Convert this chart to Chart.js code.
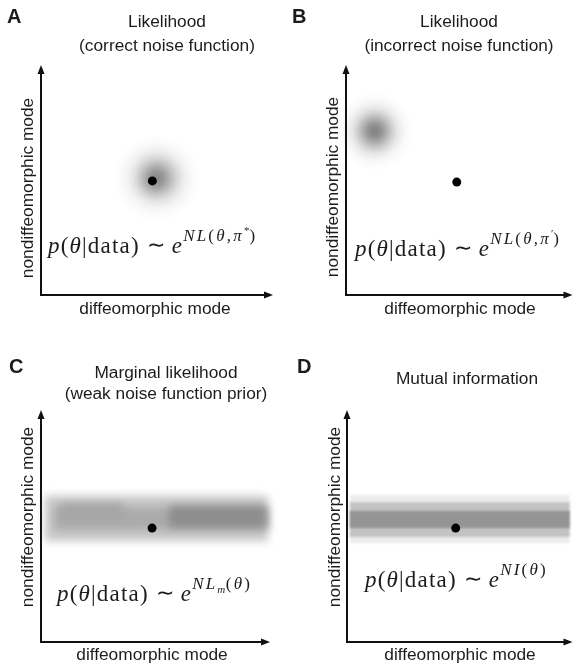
<!DOCTYPE html>
<html><head><meta charset="utf-8">
<script src="https://cdn.jsdelivr.net/npm/chart.js@4.4.0/dist/chart.umd.min.js"></script>
<style>
html,body{margin:0;padding:0;background:#fff;}
#wrap{position:relative;width:577px;height:664px;overflow:hidden;background:#fff;}
canvas{position:absolute;}
</style></head><body><div id="wrap">
<canvas id="c0"></canvas><canvas id="c1"></canvas><canvas id="c2"></canvas><canvas id="c3"></canvas>
</div>
<script>
// ---------------- data ----------------
const panelLetters = ['A', 'B', 'C', 'D'];
const titleLines = [
  ['Likelihood', '(correct noise function)'],
  ['Likelihood', '(incorrect noise function)'],
  ['Marginal likelihood', '(weak noise function prior)'],
  ['Mutual information']
];
const xAxisLabel = 'diffeomorphic mode';
const yAxisLabel = 'nondiffeomorphic mode';
const axisMin = 0, axisMax = 10;

// true parameter (black dot) per panel
const truthX = [4.80, 4.89, 4.85, 4.82];
const truthY = [4.96, 4.91, 4.91, 4.91];

// gaussian likelihood blobs (panels A, B)
const blobPanel = [0, 0, 1];
const blobX     = [5.0, 4.85, 1.27];
const blobY     = [5.09, 4.98, 7.13];
const blobSigma = [0.62, 0.30, 0.56];
const blobPeak  = [0.42, 0.08, 0.48];

// shaded horizontal bands (panels C, D)
const bandPanel = [2, 2, 2, 2, 3, 3, 3];
const bandX0    = [0.17, 0.60, 0.85, 5.60, 0.13, 0.13, 0.13];
const bandX1    = [9.91, 9.91, 3.60, 9.80, 9.87, 9.87, 9.87];
const bandY0    = [4.35, 4.85, 5.35, 4.95, 4.27, 4.53, 4.91];
const bandY1    = [6.30, 5.80, 5.95, 5.85, 6.34, 6.03, 5.65];
const bandShade = [198, 170, 165, 140, 236, 195, 148];

// equation text per panel: [text, italic, level]
const eqMain = [['p', 1, 0], ['(', 0, 0], ['θ', 1, 0], ['|data)', 0, 0], [' ', 0, 0], ['∼', 0, 4], [' ', 0, 0], ['e', 1, 0]];
const eqExp = [
  [['NL', 1, 1], ['(', 0, 1], ['θ', 1, 1], [',', 0, 1], ['π', 1, 1], ['*', 0, 2], [')', 0, 1]],
  [['NL', 1, 1], ['(', 0, 1], ['θ', 1, 1], [',', 0, 1], ['π', 1, 1], ['′', 0, 2], [')', 0, 1]],
  [['NL', 1, 1], ['m', 1, 3], ['(', 0, 1], ['θ', 1, 1], [')', 0, 1]],
  [['NI', 1, 1], ['(', 0, 1], ['θ', 1, 1], [')', 0, 1]]
];

// ---------------- layout / style ----------------
const layout = [
  {left: 0, top: 0, w: 288, h: 332, pad: {left: 41, top: 65, right: 15, bottom: 37},
   titleX: 167, titleY: [22, 46], letX: 7, letY: 17, xlabX: 155, xlabY: 309, ylabX: 28, ylabY: 188, eqX: 48, eqY: 253, blur: 0},
  {left: 288, top: 0, w: 289, h: 332, pad: {left: 58, top: 65, right: 2, bottom: 37},
   titleX: 171, titleY: [22, 46], letX: 4, letY: 17, xlabX: 172, xlabY: 309, ylabX: 45, ylabY: 187, eqX: 67, eqY: 256, blur: 0},
  {left: 0, top: 332, w: 288, h: 332, pad: {left: 41, top: 78, right: 18, bottom: 22},
   titleX: 166, titleY: [41, 62], letX: 9, letY: 35, xlabX: 152, xlabY: 323, ylabX: 28, ylabY: 185, eqX: 57, eqY: 269, blur: 4},
  {left: 288, top: 332, w: 289, h: 332, pad: {left: 59, top: 78, right: 2, bottom: 22},
   titleX: 179, titleY: [47], letX: 9, letY: 35, xlabX: 172, xlabY: 323, ylabX: 47, ylabY: 185, eqX: 77, eqY: 255, blur: 0.8}
];
const SANS = '"Liberation Sans", Arial, sans-serif';
const SERIF = '"Liberation Serif", "Times New Roman", serif';
const INK = '#1c1c1c';

function gaussBlob(ctx, cx, cy, rx, ry, peak) {
  ctx.save();
  ctx.translate(cx, cy);
  ctx.scale(rx, ry);
  const g = ctx.createRadialGradient(0, 0, 0, 0, 0, 3);
  for (let k = 0; k <= 12; k++) {
    const r = k / 4;
    g.addColorStop(r / 3, 'rgba(0,0,0,' + (peak * Math.exp(-r * r / 2)).toFixed(4) + ')');
  }
  ctx.fillStyle = g;
  ctx.beginPath(); ctx.arc(0, 0, 3, 0, Math.PI * 2); ctx.fill();
  ctx.restore();
}

const levelFont = {0: 23, 1: 17, 2: 11, 3: 11, 4: 22};
const levelRise = {0: 0, 1: 12, 2: 19, 3: 8, 4: 1};
const levelSpace = {0: 1.2, 1: 2.2, 2: 0, 3: 0.5, 4: 0};

function drawMath(ctx, x, y, main, exp) {
  ctx.textAlign = 'left';
  ctx.textBaseline = 'alphabetic';
  ctx.fillStyle = INK;
  let cx = x;
  const seg = (t, it, lvl) => {
    ctx.font = (it ? 'italic ' : '') + levelFont[lvl] + 'px ' + SERIF;
    ctx.letterSpacing = levelSpace[lvl] + 'px';
    ctx.fillText(t, cx, y - levelRise[lvl]);
    cx += ctx.measureText(t).width;
  };
  main.forEach(s => seg(s[0], s[1], s[2]));
  exp.forEach(s => seg(s[0], s[1], s[2]));
  ctx.letterSpacing = '0px';
}

function makePlugins(i) {
  const L = layout[i];
  return [{
    id: 'density' + i,
    beforeDatasetsDraw(chart) {
      const ctx = chart.ctx, xs = chart.scales.x, ys = chart.scales.y;
      const ppx = Math.abs(xs.getPixelForValue(1) - xs.getPixelForValue(0));
      const ppy = Math.abs(ys.getPixelForValue(1) - ys.getPixelForValue(0));
      for (let k = 0; k < blobPanel.length; k++) {
        if (blobPanel[k] !== i) continue;
        gaussBlob(ctx, xs.getPixelForValue(blobX[k]), ys.getPixelForValue(blobY[k]),
          blobSigma[k] * ppx, blobSigma[k] * ppy, blobPeak[k]);
      }
      ctx.save();
      if (L.blur) ctx.filter = 'blur(' + L.blur + 'px)';
      for (let k = 0; k < bandPanel.length; k++) {
        if (bandPanel[k] !== i) continue;
        const x0 = xs.getPixelForValue(bandX0[k]), x1 = xs.getPixelForValue(bandX1[k]);
        const y0 = ys.getPixelForValue(bandY1[k]), y1 = ys.getPixelForValue(bandY0[k]);
        const s = bandShade[k];
        ctx.fillStyle = 'rgb(' + s + ',' + s + ',' + s + ')';
        ctx.fillRect(x0, y0, x1 - x0, y1 - y0);
      }
      ctx.restore();
    },
    afterDatasetsDraw(chart) {
      const ctx = chart.ctx, a = chart.chartArea;
      ctx.save();
      // axes with arrows
      ctx.strokeStyle = '#111'; ctx.fillStyle = '#111'; ctx.lineWidth = 2;
      ctx.beginPath();
      ctx.moveTo(a.left, a.top + 6); ctx.lineTo(a.left, a.bottom); ctx.lineTo(a.right - 6, a.bottom);
      ctx.stroke();
      ctx.beginPath();
      ctx.moveTo(a.left, a.top); ctx.lineTo(a.left - 3.5, a.top + 9); ctx.lineTo(a.left + 3.5, a.top + 9); ctx.closePath(); ctx.fill();
      ctx.beginPath();
      ctx.moveTo(a.right, a.bottom); ctx.lineTo(a.right - 9, a.bottom - 3.5); ctx.lineTo(a.right - 9, a.bottom + 3.5); ctx.closePath(); ctx.fill();
      // panel letter
      ctx.fillStyle = INK;
      ctx.textBaseline = 'middle';
      ctx.textAlign = 'left';
      ctx.font = 'bold 20px ' + SANS;
      ctx.fillText(panelLetters[i], L.letX, L.letY);
      // titles
      ctx.textAlign = 'center';
      ctx.font = '17.3px ' + SANS;
      titleLines[i].forEach((t, j) => ctx.fillText(t, L.titleX, L.titleY[j]));
      // axis labels
      ctx.fillText(xAxisLabel, L.xlabX, L.xlabY);
      ctx.save();
      ctx.translate(L.ylabX, L.ylabY); ctx.rotate(-Math.PI / 2);
      ctx.fillText(yAxisLabel, 0, 0);
      ctx.restore();
      // equation
      drawMath(ctx, L.eqX, L.eqY, eqMain, eqExp[i]);
      ctx.restore();
    }
  }];
}

for (let i = 0; i < 4; i++) {
  const L = layout[i];
  const cv = document.getElementById('c' + i);
  cv.width = L.w; cv.height = L.h;
  cv.style.left = L.left + 'px'; cv.style.top = L.top + 'px';
  cv.style.width = L.w + 'px'; cv.style.height = L.h + 'px';
  new Chart(cv, {
    type: 'scatter',
    data: {datasets: [{
      data: [{x: truthX[i], y: truthY[i]}],
      pointRadius: 4.5, pointBackgroundColor: '#000', pointBorderWidth: 0, pointBorderColor: '#000'
    }]},
    options: {
      responsive: false, animation: false, devicePixelRatio: 1, events: [],
      layout: {padding: L.pad},
      scales: {
        x: {type: 'linear', min: axisMin, max: axisMax, display: false},
        y: {type: 'linear', min: axisMin, max: axisMax, display: false}
      },
      plugins: {legend: {display: false}, tooltip: {enabled: false}, title: {display: false}}
    },
    plugins: makePlugins(i)
  });
}
</script>
</body></html>
